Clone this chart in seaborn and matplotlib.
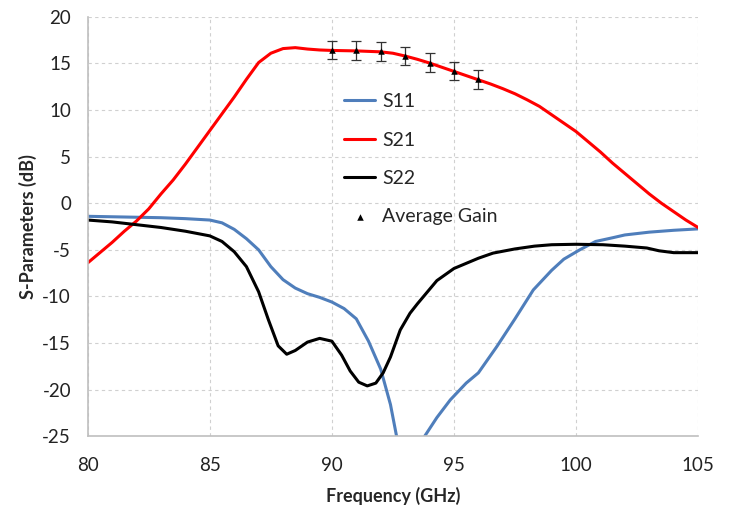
import matplotlib
matplotlib.use("Agg")
import matplotlib.pyplot as plt
import seaborn as sns

# S11 (dips below the -25 dB axis floor)
S11_FREQ = [80, 81, 82, 83, 84, 85, 85.5, 86, 86.5, 87, 87.5, 88, 88.5, 89,
            89.5, 90, 90.5, 91, 91.5, 92, 92.4, 92.65, 93.2, 93.8, 94.3,
            94.85, 95.5, 96, 96.75, 97.5, 98.25, 99, 99.5, 100.15, 100.8,
            101.5, 102, 103, 104, 105]
S11_DB = [-1.4, -1.45, -1.5, -1.55, -1.65, -1.8, -2.1, -2.8, -3.8, -5.0,
          -6.8, -8.2, -9.1, -9.7, -10.1, -10.6, -11.3, -12.4, -14.8, -17.8,
          -21.6, -25.0, -31.0, -25.0, -23.0, -21.1, -19.3, -18.2, -15.4,
          -12.4, -9.3, -7.2, -6.0, -5.0, -4.1, -3.7, -3.4, -3.1, -2.9, -2.75]

# S21
S21_FREQ = [80, 80.5, 81, 81.5, 82, 82.5, 83, 83.5, 84, 84.5, 85, 85.5, 86,
            86.5, 87, 87.5, 88, 88.5, 89, 89.5, 90, 91, 92, 92.5, 93, 93.5,
            94, 94.5, 95, 95.5, 96, 96.5, 97, 97.5, 98, 98.5, 99, 99.5, 100,
            100.5, 101, 101.5, 102, 102.5, 103, 103.5, 104, 104.5, 105]
S21_DB = [-6.4, -5.3, -4.2, -3.0, -1.9, -0.6, 1.0, 2.5, 4.2, 6.0, 7.8, 9.6,
          11.4, 13.3, 15.1, 16.1, 16.6, 16.7, 16.55, 16.45, 16.4, 16.35,
          16.25, 16.1, 15.8, 15.45, 15.05, 14.6, 14.15, 13.7, 13.25, 12.8,
          12.3, 11.75, 11.1, 10.4, 9.5, 8.6, 7.7, 6.6, 5.5, 4.3, 3.2, 2.1,
          1.0, 0.0, -0.9, -1.8, -2.6]

# S22
S22_FREQ = [80, 81, 82, 83, 84, 85, 85.5, 86, 86.5, 87, 87.4, 87.8, 88.15,
            88.5, 89, 89.5, 90, 90.4, 90.75, 91.1, 91.45, 91.8, 92.1, 92.4,
            92.8, 93.2, 93.5, 94.3, 95, 96, 96.6, 97.5, 98.3, 99, 100, 101.1,
            102, 102.9, 103.4, 104, 105]
S22_DB = [-1.8, -2.0, -2.3, -2.6, -3.0, -3.5, -4.1, -5.2, -6.8, -9.5, -12.5,
          -15.3, -16.2, -15.8, -14.9, -14.5, -14.8, -16.3, -18.0, -19.2,
          -19.6, -19.3, -18.2, -16.5, -13.6, -11.8, -10.8, -8.3, -7.0, -5.9,
          -5.35, -4.9, -4.6, -4.45, -4.4, -4.45, -4.6, -4.8, -5.1, -5.3, -5.3]

# Average gain with error bars
GAIN_FREQ = [90, 91, 92, 93, 94, 95, 96]
GAIN_DB = [16.45, 16.4, 16.3, 15.8, 15.1, 14.2, 13.3]
GAIN_ERR = [1.0, 1.0, 1.0, 1.0, 1.0, 1.0, 1.0]

X_TICKS = [80, 85, 90, 95, 100, 105]
Y_TICKS = [-25, -20, -15, -10, -5, 0, 5, 10, 15, 20]


def main():
    sns.set_style("white")
    plt.rcParams['font.family'] = ['Lato', 'DejaVu Sans']
    plt.rcParams['axes.unicode_minus'] = False

    fig = plt.figure(figsize=(7.31, 5.12), dpi=100)
    ax = fig.add_axes([0.120, 0.148, 0.835, 0.819])

    sns.lineplot(x=S11_FREQ, y=S11_DB, ax=ax, color="#4F7EBB", lw=2.2,
                 label="S11", sort=False, estimator=None)
    sns.lineplot(x=S21_FREQ, y=S21_DB, ax=ax, color="#FF0000", lw=2.2,
                 label="S21", sort=False, estimator=None)
    sns.lineplot(x=S22_FREQ, y=S22_DB, ax=ax, color="black", lw=2.2,
                 label="S22", sort=False, estimator=None)

    ax.errorbar(GAIN_FREQ, GAIN_DB, yerr=GAIN_ERR, fmt="none",
                ecolor="#333333", elinewidth=0.9, capsize=3.5, capthick=0.9,
                zorder=4)
    sns.scatterplot(x=GAIN_FREQ, y=GAIN_DB, ax=ax, marker="^", s=22,
                    color="black", edgecolor="black", linewidth=0,
                    label="Average Gain", zorder=5)

    ax.set_xlim(80, 105)
    ax.set_ylim(-25, 20)
    ax.set_xticks(X_TICKS)
    ax.set_yticks(Y_TICKS)
    ax.tick_params(axis="both", labelsize=13.5, colors="#222222", length=0)
    ax.tick_params(axis="y", pad=12)
    ax.tick_params(axis="x", pad=15)
    ax.grid(True, color="#D0D0D0", linestyle=(0, (3, 3)), linewidth=0.8)

    for side in ("top", "right"):
        ax.spines[side].set_visible(False)
    for side in ("left", "bottom"):
        ax.spines[side].set_color("#BFBFBF")
        ax.spines[side].set_linewidth(1.2)

    ax.set_xlabel("Frequency (GHz)", fontsize=13, fontweight="bold",
                  labelpad=9)
    ax.set_ylabel("S-Parameters (dB)", fontsize=13, fontweight="bold",
                  labelpad=4)

    ax.legend(loc="upper left", bbox_to_anchor=(0.42, 0.818), frameon=False,
              fontsize=14, handlelength=1.6, handletextpad=0.35,
              labelspacing=1.1, borderaxespad=0, borderpad=0)

    fig.savefig("out.png", dpi=100)


if __name__ == '__main__':
    main()
